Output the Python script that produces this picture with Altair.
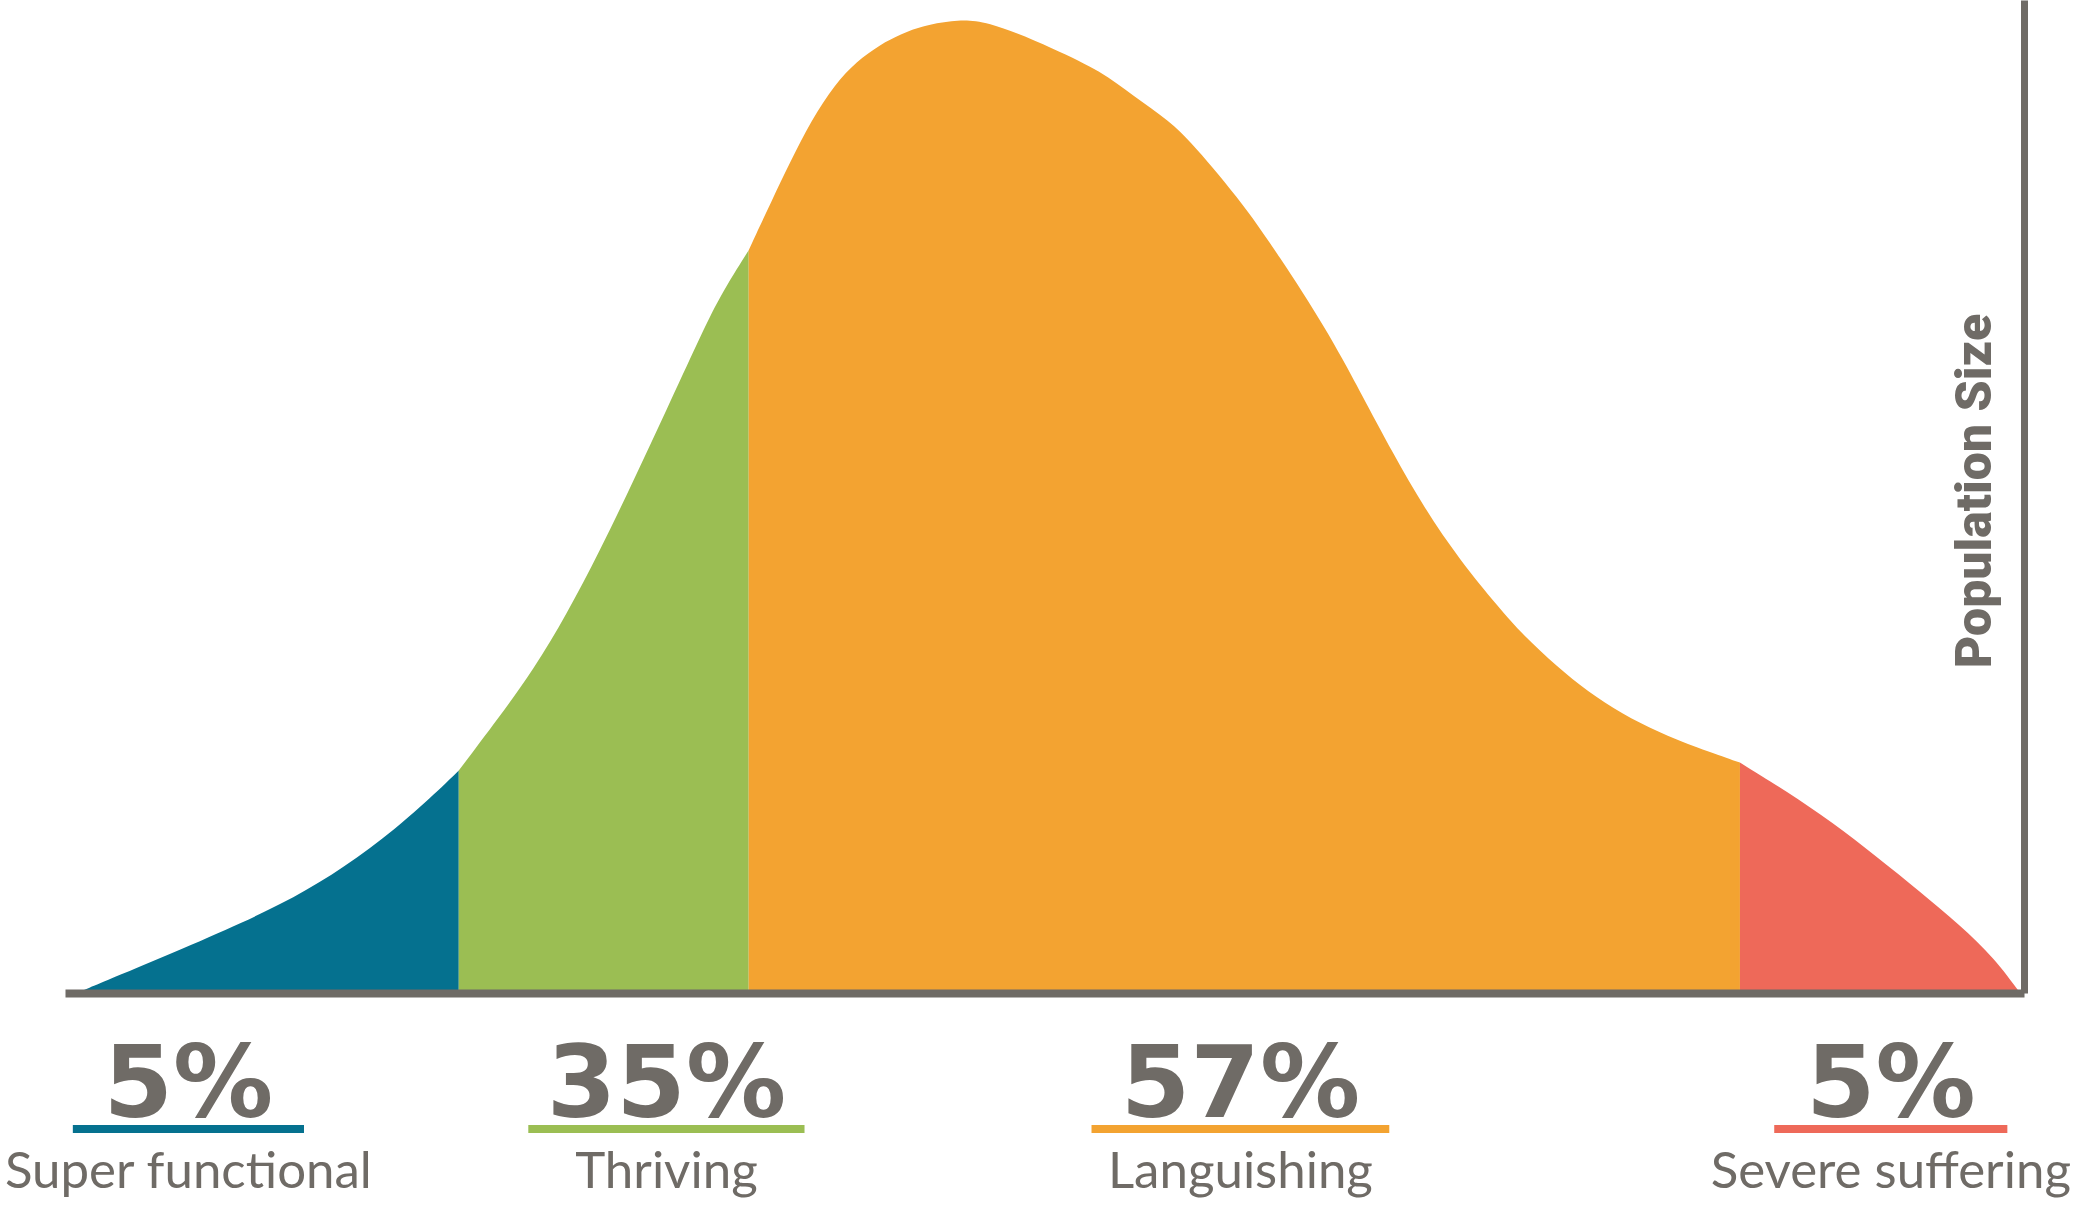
import altair as alt
import pandas as pd

# ---- data (x = wellbeing score 0-100, y = population size 0-100)
segments = ["Super functional", "Thriving", "Languishing", "Severe suffering"]
percents = ["5%", "35%", "57%", "5%"]
colors = ["#05718f", "#9bbe53", "#f3a331", "#ee6959"]

teal_x = [0.6, 4.5, 8.4, 11.0, 13.6, 16.2, 18.8, 20.1]
teal_y = [0.0, 3.2, 6.5, 8.9, 11.8, 15.4, 19.9, 22.4]

green_x = [20.1, 22.2, 23.9, 25.6, 27.3, 29.0, 30.7, 32.4, 33.4, 34.9]
green_y = [22.4, 27.9, 32.5, 38.1, 44.5, 51.5, 58.7, 66.0, 70.1, 74.8]

orange_x = [34.9, 36.1, 37.0, 38.1, 39.3, 40.4, 41.6, 42.7, 43.8, 45.2, 46.9,
            50.6, 52.9, 54.5, 56.4, 57.5, 58.6, 59.8, 60.9, 62.0, 63.2, 64.3,
            65.2, 66.1, 67.8, 69.4, 71.2, 73.2, 74.4, 76.2, 77.7, 79.5, 81.3,
            83.3, 85.5]
orange_y = [74.8, 79.9, 83.6, 87.9, 91.5, 93.8, 95.5, 96.6, 97.4, 97.9, 98.1,
            95.0, 92.8, 90.4, 87.8, 85.6, 83.1, 80.2, 77.3, 74.1, 70.5, 67.0,
            63.9, 60.6, 54.3, 48.8, 43.6, 38.8, 36.1, 32.8, 30.4, 28.1, 26.3,
            24.7, 23.2]

red_x = [85.5, 87.9, 90.2, 92.5, 94.7, 96.7, 98.5, 99.8]
red_y = [23.2, 20.3, 17.2, 13.7, 10.2, 6.9, 3.5, 0.0]

# label centres along the score axis and underline half-widths (layout)
label_centers = [6.3, 30.7, 60.0, 93.2]
underline_half = [5.9, 7.05, 7.6, 5.95]

GREY = "#6f6b66"

rows = []
for seg, xs, ys in zip(segments, [teal_x, green_x, orange_x, red_x],
                       [teal_y, green_y, orange_y, red_y]):
    for x, y in zip(xs, ys):
        rows.append({"segment": seg, "score": x, "pop": y})
curve = pd.DataFrame(rows)

labels = pd.DataFrame({
    "segment": segments,
    "pct": percents,
    "score": label_centers,
    "x2": [c + h for c, h in zip(label_centers, underline_half)],
    "x1": [c - h for c, h in zip(label_centers, underline_half)],
})

xscale = alt.Scale(domain=[0, 100], nice=False, zero=False)
yscale = alt.Scale(domain=[0, 100], nice=False)
cscale = alt.Scale(domain=segments, range=colors)
x_axis = alt.Axis(domain=True, domainColor=GREY, domainWidth=8, ticks=False,
                  labels=False, grid=False, title=None, zindex=1)
y_axis = alt.Axis(orient="right", domain=True, domainColor=GREY, domainWidth=7,
                  ticks=False, labels=False, grid=False, title=None, zindex=1)

area = alt.Chart(curve).mark_area(interpolate="basis").encode(
    x=alt.X("score:Q", scale=xscale, axis=x_axis),
    y=alt.Y("pop:Q", scale=yscale, axis=y_axis, stack=None),
    color=alt.Color("segment:N", scale=cscale, legend=None),
)

pct_text = alt.Chart(labels).mark_text(
    font="DejaVu Sans", fontWeight="bold", fontSize=100, color=GREY,
    align="center", baseline="alphabetic"
).encode(
    x=alt.X("score:Q", scale=xscale, axis=x_axis),
    y=alt.value(1117),
    text="pct:N",
)

underline = alt.Chart(labels).mark_rule(strokeWidth=8).encode(
    x=alt.X("x1:Q", scale=xscale, axis=x_axis),
    x2="x2:Q",
    y=alt.value(1129),
    color=alt.Color("segment:N", scale=cscale, legend=None),
)

name_text = alt.Chart(labels).mark_text(
    font="Lato", fontWeight=400, fontSize=51, color=GREY,
    align="center", baseline="alphabetic"
).encode(
    x=alt.X("score:Q", scale=xscale, axis=x_axis),
    y=alt.value(1188),
    text="segment:N",
)

ytitle = alt.Chart(pd.DataFrame({"t": ["Population Size"]})).mark_text(
    font="Roboto", fontWeight=900, fontSize=50, color=GREY, angle=270,
    align="center", baseline="middle"
).encode(
    x=alt.value(1911),
    y=alt.value(491),
    text="t:N",
)

chart = alt.layer(area, underline, pct_text, name_text, ytitle).properties(
    width=1959,
    height=993,
    autosize=alt.AutoSizeParams(type="none"),
    padding={"left": 65, "top": 0, "right": 54, "bottom": 217},
    background="white",
).configure_view(stroke=None)

chart.save("out.html", embed_options={"renderer": "svg", "actions": False})
